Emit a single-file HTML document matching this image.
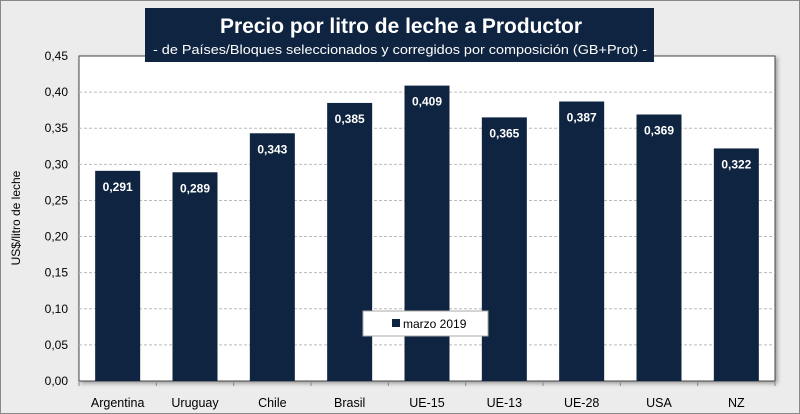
<!DOCTYPE html>
<html><head><meta charset="utf-8"><style>
body{margin:0;width:800px;height:414px;overflow:hidden;background:#fff;font-family:"Liberation Sans",sans-serif}
#frame{position:absolute;left:0;top:0;width:798px;height:412px;border:1px solid #888;background:#ececec}
</style></head><body>
<div id="frame"></div>
<svg width="800" height="414" style="position:absolute;left:0;top:0">
<defs><filter id="sh" x="-5%" y="-5%" width="110%" height="110%"><feDropShadow dx="2" dy="2" stdDeviation="2" flood-color="#000" flood-opacity="0.35"/></filter></defs>
<rect x="79" y="56" width="696" height="325" fill="#fff" stroke="#444" stroke-width="1" filter="url(#sh)"/>
<g id="grid"></g><g id="bars"></g><g id="axes"></g>
<rect x="145" y="8" width="509" height="54" fill="#0f2440"/>
<text x="401" y="33" text-anchor="middle" fill="#fff" font-size="21" font-weight="bold" textLength="362" lengthAdjust="spacingAndGlyphs">Precio por litro de leche a Productor</text>
<text x="400" y="54" text-anchor="middle" fill="#fff" font-size="13" textLength="494" lengthAdjust="spacingAndGlyphs">-  de Países/Bloques seleccionados y corregidos por composición (GB+Prot) -</text>
<text transform="translate(20,218) rotate(-90)" text-anchor="middle" font-size="12" fill="#000">US$/litro de leche</text>
<g>
<rect x="363" y="311" width="125" height="25" fill="#fff" stroke="#aaa"/>
<rect x="392" y="319" width="8" height="8" fill="#0f2440"/>
<text x="403" y="328" font-size="12" fill="#000">marzo 2019</text>
</g>
</svg>
<script>
const categories=["Argentina","Uruguay","Chile","Brasil","UE-15","UE-13","UE-28","USA","NZ"];
const values=[0.291,0.289,0.343,0.385,0.409,0.365,0.387,0.369,0.322];
const valueLabels=["0,291","0,289","0,343","0,385","0,409","0,365","0,387","0,369","0,322"];
const yTicks=[0,0.05,0.10,0.15,0.20,0.25,0.30,0.35,0.40,0.45];
const yTickLabels=["0,00","0,05","0,10","0,15","0,20","0,25","0,30","0,35","0,40","0,45"];
const NS="http://www.w3.org/2000/svg";
const L=79,R=775,T=56,B=381,ymax=0.45;
const y=v=>B-(v/ymax)*(B-T);
const band=(R-L)/categories.length;
const x=i=>L+band*(i+0.5);
function mk(t,a,p){const e=document.createElementNS(NS,t);for(const k in a)e.setAttribute(k,a[k]);p.appendChild(e);return e;}
const g=document.getElementById('grid'),b=document.getElementById('bars'),ax=document.getElementById('axes');
yTicks.forEach((v,i)=>{
 if(v>0&&v<ymax){const l=mk('line',{x1:L,x2:R,y1:y(v),y2:y(v),stroke:'#bbb','stroke-dasharray':'3,2'},g);
 
 }
 const t=mk('text',{x:L-11,y:y(v)+4,'text-anchor':'end','font-size':12,fill:'#000'},ax);t.textContent=yTickLabels[i];
 
 
});
const bw=45;
categories.forEach((c,i)=>{
 const r=mk('rect',{x:x(i)-bw/2,y:y(values[i]),width:bw,height:B-y(values[i]),fill:'#0f2440'},b);
 
 
 const vl=mk('text',{x:x(i),y:y(values[i])+20,'text-anchor':'middle','font-size':12,'font-weight':'bold',fill:'#fff'},b);vl.textContent=valueLabels[i];
 
 
 const cl=mk('text',{x:x(i),y:B+26,'text-anchor':'middle','font-size':12.5,fill:'#000'},ax);cl.textContent=c;
 
 
});
for(let i=0;i<=categories.length;i++){const tk=mk('line',{x1:L+band*i,x2:L+band*i,y1:B,y2:B+5,stroke:'#888'},ax);
 
 }
</script>
</body></html>
